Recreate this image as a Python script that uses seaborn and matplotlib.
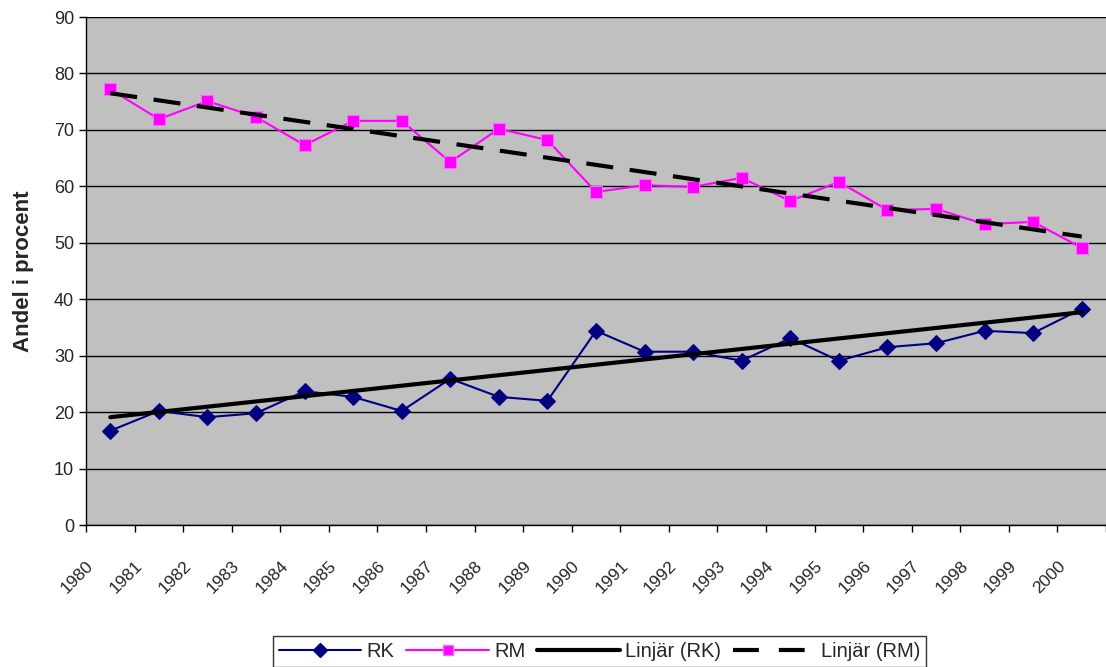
import numpy as np
import pandas as pd
import matplotlib
matplotlib.use("Agg")
import matplotlib.pyplot as plt
import seaborn as sns
from matplotlib.lines import Line2D

years = list(range(1980, 2001))
rk = [16.7, 20.2, 19.1, 19.8, 23.7, 22.7, 20.2, 25.9, 22.7, 22.0, 34.4,
      30.7, 30.7, 29.1, 33.1, 29.1, 31.5, 32.2, 34.4, 34.0, 38.3]
rm = [77.2, 71.9, 75.1, 72.3, 67.3, 71.6, 71.6, 64.3, 70.2, 68.2, 59.0,
      60.2, 59.9, 61.5, 57.4, 60.8, 55.8, 56.0, 53.3, 53.7, 49.1]
# Excel "Linjär" trend lines, start (1980) and end (2000) values
trend_rk = [19.1, 37.7]
trend_rm = [76.5, 51.1]

df = pd.DataFrame({"pos": np.arange(len(years)), "RK": rk, "RM": rm})
trend = pd.DataFrame({"pos": [0, len(years) - 1],
                      "RK": trend_rk, "RM": trend_rm})

sns.set_style("white")
plt.rcParams["font.family"] = ["Liberation Sans", "DejaVu Sans"]

fig = plt.figure(figsize=(11.06, 6.67), dpi=100)
ax = fig.add_axes([86 / 1106, 1 - 525 / 667, 1020 / 1106, 508 / 667])
ax.set_facecolor("#C0C0C0")

sns.lineplot(data=df, x="pos", y="RK", ax=ax, color="#000080", lw=1.5,
             marker="D", markersize=8, markeredgecolor="#000080")
sns.lineplot(data=df, x="pos", y="RM", ax=ax, color="#FF00FF", lw=1.5,
             marker="s", markersize=8, markeredgecolor="#FF66FF",
             markerfacecolor="#FF00FF")
sns.lineplot(data=trend, x="pos", y="RK", ax=ax, color="black", lw=3)
sns.lineplot(data=trend, x="pos", y="RM", ax=ax, color="black", lw=3,
             linestyle=(0, (6.5, 4)))

ax.set_xlim(-0.5, len(years) - 0.5)
ax.set_ylim(0, 90)
ax.set_yticks(range(0, 91, 10))
ax.yaxis.grid(True, color="black", lw=1)
ax.set_axisbelow(True)
# year labels sit at the category boundaries, like the Excel original
ax.set_xticks(np.arange(-0.5, len(years) - 1))
ax.set_xticklabels([str(y) for y in years], rotation=45, ha="right",
                   va="top", rotation_mode="anchor", fontsize=12.5)
ax.set_xticks([len(years) - 0.5], minor=True)
ax.tick_params(axis="x", which="both", length=5, width=1, color="black",
               direction="out", bottom=True)
ax.tick_params(axis="x", which="major", pad=19)
ax.tick_params(axis="y", length=5, width=1, color="black", direction="out",
               left=True, labelsize=13)
ax.set_xlabel("")
ax.set_ylabel("Andel i procent", fontsize=16, fontweight="bold", labelpad=14)
for side in ["left", "bottom"]:
    ax.spines[side].set_color("black")
    ax.spines[side].set_linewidth(1)
ax.spines["top"].set_visible(False)
ax.spines["right"].set_visible(False)

handles = [
    Line2D([], [], color="#000080", marker="D", markersize=7, lw=1.5),
    Line2D([], [], color="#FF00FF", marker="s", markersize=7, lw=1.5,
           markeredgecolor="#FF66FF"),
    Line2D([], [], color="black", lw=3),
    Line2D([], [], color="black", lw=3, linestyle=(0, (6.2, 4.8))),
]
leg = fig.legend(handles, ["RK", "RM", "Linjär (RK)", "Linjär (RM)"],
                 loc="upper center", bbox_to_anchor=(0.542, 1 - 636 / 667),
                 ncol=4, frameon=True, fancybox=False, fontsize=14.5,
                 handlelength=4.1, handletextpad=0.25, columnspacing=0.6,
                 borderpad=0.3, borderaxespad=0)
leg.get_frame().set_edgecolor("black")
leg.get_frame().set_linewidth(1)

fig.savefig("out.png", dpi=100)
